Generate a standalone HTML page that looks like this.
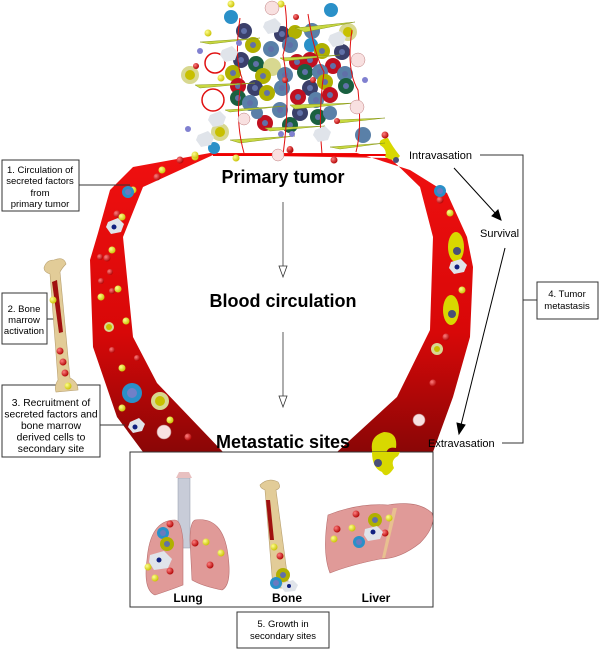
<!DOCTYPE html>
<html><head><meta charset="utf-8"><style>
html,body{margin:0;padding:0;background:#fff;}
svg{display:block;font-family:"Liberation Sans",Arial,sans-serif;}
</style></head><body>
<svg width="600" height="655" viewBox="0 0 600 655" xmlns="http://www.w3.org/2000/svg">
<defs>
<linearGradient id="vg" x1="0" y1="0" x2="0" y2="1">
<stop offset="0" stop-color="#f01010"/><stop offset="0.6" stop-color="#d80808"/><stop offset="1" stop-color="#8a0606"/>
</linearGradient>
<radialGradient id="rb" cx="0.35" cy="0.35" r="0.7"><stop offset="0" stop-color="#ff8080"/><stop offset="1" stop-color="#b00000"/></radialGradient>
<radialGradient id="yb" cx="0.35" cy="0.35" r="0.7"><stop offset="0" stop-color="#ffff90"/><stop offset="1" stop-color="#c8c000"/></radialGradient>
</defs>

<path d="M210,153 L133,167 L110,190 L98,233 L90,260 L93,347 L117,417 L143,452 L223,452 L157,383 L133,337 L123,237 L143,187 L213,155 L390,158 L420,187 L433,237 L430,330 L397,397 L337,452 L433,452 L453,397 L470,337 L473,267 L467,237 L447,193 L410,170 L357,153 Z" fill="url(#vg)"/>
<line x1="213" y1="155" x2="390" y2="155" stroke="#e00" stroke-width="2"/>

<g fill="url(#rb)">
<circle cx="180" cy="160" r="3.5"/><circle cx="157" cy="177" r="3.5"/><circle cx="117" cy="214" r="3.5"/><circle cx="107" cy="258" r="3.5"/><circle cx="100" cy="257" r="3"/><circle cx="110" cy="272" r="3"/><circle cx="101" cy="281" r="3"/><circle cx="112" cy="291" r="3"/><circle cx="112" cy="350" r="3"/><circle cx="137" cy="358" r="3"/><circle cx="188" cy="437" r="3.5"/><circle cx="334" cy="160" r="3.5"/><circle cx="440" cy="200" r="3.5"/><circle cx="446" cy="337" r="3.5"/><circle cx="433" cy="383" r="3.5"/><circle cx="290" cy="150" r="3.5"/>
</g>
<g fill="url(#yb)">
<circle cx="195" cy="157" r="3.5"/><circle cx="162" cy="170" r="3.5"/><circle cx="133" cy="190" r="3.5"/><circle cx="122" cy="217" r="3.5"/><circle cx="112" cy="250" r="3.5"/><circle cx="118" cy="289" r="3.5"/><circle cx="101" cy="297" r="3.5"/><circle cx="126" cy="321" r="3.5"/><circle cx="122" cy="368" r="3.5"/><circle cx="122" cy="408" r="3.5"/><circle cx="170" cy="420" r="3.5"/><circle cx="236" cy="158" r="3.5"/><circle cx="450" cy="213" r="3.5"/><circle cx="462" cy="290" r="3.5"/>
</g>
<g>
<circle cx="128" cy="192" r="6" fill="#2a90c8"/><circle cx="128" cy="192" r="3" fill="#6a7ac0"/>
<circle cx="132" cy="393" r="10" fill="#2a90c8"/><circle cx="132" cy="393" r="5" fill="#7080c8"/>
<circle cx="160" cy="401" r="9" fill="#d8d890"/><circle cx="160" cy="401" r="5" fill="#c8c000"/>
<circle cx="109" cy="327" r="5" fill="#d8d890"/><circle cx="109" cy="327" r="3" fill="#c8c000"/>
<circle cx="440" cy="191" r="6" fill="#2a90c8"/><circle cx="440" cy="191" r="3" fill="#6a7ac0"/>
<circle cx="437" cy="349" r="6" fill="#d8d890"/><circle cx="437" cy="349" r="3" fill="#c8c000"/>
<ellipse cx="456" cy="247" rx="8" ry="15" fill="#d8d800"/><circle cx="457" cy="251" r="4" fill="#4a4f78"/>
<ellipse cx="451" cy="310" rx="8" ry="15" fill="#d8d800"/><circle cx="452" cy="314" r="4" fill="#4a4f78"/>
<path d="M108,222 l10,-4 l6,6 l-3,8 l-10,2 l-5,-7z" fill="#e0e4ea"/><circle cx="114" cy="227" r="2.5" fill="#102080"/>
<path d="M451,262 l10,-3 l6,6 l-3,7 l-10,2 l-5,-6z" fill="#e0e4ea"/><circle cx="457" cy="267" r="2.5" fill="#102080"/>
<path d="M130,422 l9,-4 l6,6 l-3,7 l-9,2 l-5,-6z" fill="#e0e4ea"/><circle cx="135" cy="427" r="2.5" fill="#102080"/>
<circle cx="164" cy="432" r="7" fill="#f8e0e0" stroke="#c08080" stroke-width="0.6"/>
<circle cx="419" cy="420" r="6" fill="#f8e0e0" stroke="#c08080" stroke-width="0.6"/>
<path d="M380,145 q8,5 5,12 q10,6 15,-1 q-8,-10 -12,-18 q-10,1 -8,7z" fill="#d8d800"/><circle cx="396" cy="160" r="3" fill="#4a4f78"/>
<path d="M372,450 q-2,-14 12,-18 q14,0 12,16 q-10,-2 -10,8 q2,4 -2,10 q-12,8 -12,-16z" fill="#d8d800"/><circle cx="380" cy="462" r="4" fill="#4a4f78"/>
</g>

<g>
<circle cx="231" cy="17" r="7" fill="#2a90c8"/><circle cx="331" cy="10" r="7" fill="#2a90c8"/>
<circle cx="348" cy="32" r="9" fill="#d8d890"/><circle cx="348" cy="32" r="5" fill="#c8c000"/>
<circle cx="190" cy="75" r="9" fill="#d8d890"/><circle cx="190" cy="75" r="5" fill="#c8c000"/>
<circle cx="220" cy="132" r="9" fill="#d8d890"/><circle cx="220" cy="132" r="5" fill="#c8c000"/>
<circle cx="214" cy="148" r="6" fill="#2a90c8"/>
<circle cx="363" cy="135" r="8" fill="#5a80a8"/>
<circle cx="244" cy="31" r="8" fill="#3a3f6a"/><circle cx="282" cy="34" r="8" fill="#3a3f6a"/>
<circle cx="295" cy="32" r="7" fill="#b0b000"/><circle cx="312" cy="31" r="8" fill="#5a80a8"/>
<circle cx="253" cy="45" r="8" fill="#b0b000"/><circle cx="271" cy="49" r="8" fill="#5a80a8"/><circle cx="290" cy="45" r="8" fill="#5a80a8"/><circle cx="311" cy="45" r="7" fill="#2a90c8"/><circle cx="322" cy="51" r="8" fill="#b0b000"/><circle cx="342" cy="52" r="8" fill="#3a3f6a"/>
<circle cx="241" cy="60" r="8" fill="#3a3f6a"/><circle cx="256" cy="64" r="8" fill="#1a6040"/><circle cx="272" cy="67" r="9" fill="#d8d890"/><circle cx="297" cy="62" r="8" fill="#c01020"/><circle cx="310" cy="60" r="8" fill="#c01020"/><circle cx="333" cy="66" r="8" fill="#c01020"/>
<circle cx="233" cy="73" r="8" fill="#b0b000"/><circle cx="263" cy="76" r="8" fill="#b0b000"/><circle cx="285" cy="75" r="8" fill="#5a80a8"/><circle cx="305" cy="72" r="8" fill="#1a6040"/><circle cx="320" cy="72" r="8" fill="#5a80a8"/><circle cx="345" cy="74" r="8" fill="#5a80a8"/>
<circle cx="238" cy="86" r="8" fill="#c01020"/><circle cx="255" cy="88" r="8" fill="#3a3f6a"/><circle cx="282" cy="88" r="8" fill="#5a80a8"/><circle cx="310" cy="88" r="8" fill="#3a3f6a"/><circle cx="325" cy="82" r="8" fill="#b0b000"/><circle cx="346" cy="86" r="8" fill="#1a6040"/>
<circle cx="238" cy="98" r="8" fill="#1a6040"/><circle cx="250" cy="103" r="8" fill="#5a80a8"/><circle cx="267" cy="93" r="8" fill="#b0b000"/><circle cx="298" cy="97" r="8" fill="#c01020"/><circle cx="316" cy="100" r="8" fill="#5a80a8"/><circle cx="330" cy="95" r="8" fill="#c01020"/>
<circle cx="280" cy="110" r="8" fill="#5a80a8"/><circle cx="300" cy="113" r="8" fill="#3a3f6a"/><circle cx="318" cy="117" r="8" fill="#1a6040"/><circle cx="265" cy="123" r="8" fill="#c01020"/><circle cx="290" cy="125" r="8" fill="#1a6040"/><circle cx="330" cy="113" r="7" fill="#5a80a8"/><circle cx="257" cy="113" r="6" fill="#5a80a8"/>
<g fill="#6070a8"><circle cx="244" cy="31" r="3"/><circle cx="282" cy="34" r="3"/><circle cx="253" cy="45" r="3"/><circle cx="271" cy="49" r="3"/><circle cx="290" cy="45" r="3"/><circle cx="322" cy="51" r="3"/><circle cx="342" cy="52" r="3"/><circle cx="241" cy="60" r="3"/><circle cx="256" cy="64" r="3"/><circle cx="297" cy="62" r="3"/><circle cx="310" cy="60" r="3"/><circle cx="333" cy="66" r="3"/><circle cx="233" cy="73" r="3"/><circle cx="263" cy="76" r="3"/><circle cx="285" cy="75" r="3"/><circle cx="305" cy="72" r="3"/><circle cx="320" cy="72" r="3"/><circle cx="345" cy="74" r="3"/><circle cx="238" cy="86" r="3"/><circle cx="255" cy="88" r="3"/><circle cx="282" cy="88" r="3"/><circle cx="310" cy="88" r="3"/><circle cx="325" cy="82" r="3"/><circle cx="346" cy="86" r="3"/><circle cx="238" cy="98" r="3"/><circle cx="250" cy="103" r="3"/><circle cx="267" cy="93" r="3"/><circle cx="298" cy="97" r="3"/><circle cx="316" cy="100" r="3"/><circle cx="330" cy="95" r="3"/><circle cx="280" cy="110" r="3"/><circle cx="300" cy="113" r="3"/><circle cx="318" cy="117" r="3"/><circle cx="265" cy="123" r="3"/><circle cx="290" cy="125" r="3"/></g>
<g fill="#c8d840" stroke="#8a9a20" stroke-width="0.5">
<path d="M200,42 l60,-4 l-50,6z"/><path d="M295,28 l60,-6 l-50,10z"/><path d="M195,85 l60,-2 l-55,5z"/><path d="M280,58 l60,-3 l-55,6z"/><path d="M225,110 l60,-4 l-55,6z"/><path d="M290,105 l65,-2 l-60,6z"/><path d="M335,120 l50,-2 l-45,5z"/><path d="M230,140 l65,-4 l-55,7z"/><path d="M330,147 l55,-4 l-45,6z"/><path d="M265,128 l60,-2 l-55,5z"/>
</g>
<g fill="none" stroke="#e01010" stroke-width="1">
<circle cx="215" cy="63" r="10" stroke-width="1.5"/><circle cx="213" cy="100" r="11" stroke-width="1.5"/>
<path d="M240,18 q-6,40 2,60 q-8,40 2,75"/><path d="M285,5 q4,30 -2,50 q8,40 0,100"/><path d="M308,14 q6,40 16,58 q-6,40 -2,82"/><path d="M352,30 q-6,40 6,60 q4,40 -2,62"/>
</g>
<g fill="url(#rb)"><circle cx="196" cy="66" r="3"/><circle cx="296" cy="17" r="3"/><circle cx="285" cy="80" r="3"/><circle cx="313" cy="80" r="3"/><circle cx="337" cy="121" r="3"/><circle cx="385" cy="135" r="3.5"/><circle cx="290" cy="149" r="3"/></g>
<g fill="url(#yb)"><circle cx="231" cy="4" r="3.5"/><circle cx="281" cy="4" r="3.5"/><circle cx="208" cy="33" r="3.5"/><circle cx="221" cy="78" r="3.5"/><circle cx="195" cy="155" r="3.5"/></g>
<g fill="#e0e4ea"><path d="M222,50 l10,-4 l6,6 l-3,8 l-10,2 l-5,-7z"/><path d="M265,22 l10,-4 l6,6 l-3,8 l-10,2 l-5,-7z"/><path d="M330,35 l10,-4 l6,6 l-3,8 l-10,2 l-5,-7z"/><path d="M210,115 l10,-4 l6,6 l-3,8 l-10,2 l-5,-7z"/><path d="M198,135 l10,-4 l6,6 l-3,8 l-10,2 l-5,-7z"/><path d="M315,130 l10,-4 l6,6 l-3,8 l-10,2 l-5,-7z"/></g>
<g fill="#f8e0e0" stroke="#c08080" stroke-width="0.5"><circle cx="272" cy="8" r="7"/><circle cx="358" cy="60" r="7"/><circle cx="357" cy="107" r="7"/><circle cx="244" cy="119" r="6"/><circle cx="278" cy="155" r="6"/></g>
<g fill="#8080d0"><circle cx="200" cy="51" r="3"/><circle cx="239" cy="43" r="3"/><circle cx="365" cy="80" r="3"/><circle cx="188" cy="129" r="3"/><circle cx="281" cy="134" r="3"/><circle cx="292" cy="134" r="3"/></g>
</g>

<g font-weight="bold" font-size="18" text-anchor="middle" fill="#000">
<text x="283" y="183">Primary tumor</text>
<text x="283" y="307">Blood circulation</text>
<text x="283" y="448">Metastatic sites</text>
</g>
<g stroke="#333" stroke-width="0.8" fill="#fff">
<line x1="283" y1="202" x2="283" y2="266"/><path d="M279,266 L287,266 L283,277 Z"/>
<line x1="283" y1="332" x2="283" y2="396"/><path d="M279,396 L287,396 L283,407 Z"/>
</g>

<g stroke="#333" stroke-width="1" fill="#fff">
<rect x="2" y="160" width="77" height="51"/>
<rect x="2" y="293" width="45" height="51"/>
<rect x="2" y="385" width="98" height="72"/>
<rect x="537" y="282" width="61" height="37"/>
<rect x="237" y="612" width="92" height="36"/>
</g>
<g stroke="#333" stroke-width="1" fill="none">
<line x1="79" y1="185" x2="130" y2="185"/>
<line x1="47" y1="319" x2="55" y2="319"/>
<line x1="100" y1="425" x2="125" y2="425"/>
<polyline points="480,155 523,155 523,443 502,443"/>
<line x1="523" y1="300" x2="537" y2="300"/>
</g>
<g font-size="9.5" text-anchor="middle" fill="#000">
<text x="40" y="173">1. Circulation of</text><text x="40" y="184">secreted factors</text><text x="40" y="196">from</text><text x="40" y="207">primary tumor</text>
<text x="24" y="312">2. Bone</text><text x="24" y="323">marrow</text><text x="24" y="334">activation</text>
<text x="567" y="297">4. Tumor</text><text x="567" y="309">metastasis</text>
<text x="283" y="627">5. Growth in</text><text x="283" y="639">secondary sites</text>
</g>
<g font-size="10.3" text-anchor="middle" fill="#000">
<text x="51" y="406">3. Recruitment of</text><text x="51" y="417.5">secreted factors and</text><text x="51" y="429">bone marrow</text><text x="51" y="440.5">derived cells to</text><text x="51" y="452">secondary site</text>
</g>
<g font-size="11" fill="#000">
<text x="409" y="159">Intravasation</text>
<text x="480" y="237">Survival</text>
<text x="428" y="447">Extravasation</text>
</g>
<g stroke="#000" stroke-width="1">
<line x1="454" y1="168" x2="496" y2="214"/><path d="M501,220 L492,216 L498,210 Z" fill="#000"/>
<line x1="505" y1="248" x2="461" y2="425"/><path d="M459,434 L457,423 L465,425 Z" fill="#000"/>
</g>

<g>
<path d="M44,268 q2,-8 10,-8 q10,-4 12,4 q-4,4 -6,8 l10,106 q8,4 8,12 l-22,2 q-2,-6 2,-12 l-8,-106 q-6,-2 -6,-6z" fill="#e2cc98" stroke="#b8a070" stroke-width="0.6"/>
<path d="M52,282 l5,-2 l6,52 l-4,1z" fill="#a01010"/>
<circle cx="53" cy="300" r="3.5" fill="url(#yb)"/><circle cx="60" cy="351" r="3.5" fill="url(#rb)"/><circle cx="63" cy="362" r="3.5" fill="url(#rb)"/><circle cx="65" cy="373" r="3.5" fill="url(#rb)"/><circle cx="68" cy="386" r="3.5" fill="url(#yb)"/>
</g>

<rect x="130" y="452" width="303" height="155" fill="#fff" stroke="#333" stroke-width="1"/>
<path d="M372,452 q0,16 10,20 q4,8 12,-4 q-4,-8 4,-12 l2,-4z" fill="#d8d800"/><circle cx="378" cy="463" r="4" fill="#4a4f78"/>
<g>
<rect x="178" y="478" width="12" height="70" fill="#c8ccd8" stroke="#9098a8" stroke-width="0.5"/>
<path d="M176,478 l16,0 l-3,-6 l-10,0z" fill="#e8c0c0"/>
<path d="M175,520 q-25,0 -28,40 q-4,30 8,35 q18,-6 28,-10 l0,-45 q-2,-20 -8,-20z" fill="#e09a98" stroke="#b87070" stroke-width="0.6"/>
<path d="M195,520 q28,-4 33,35 q4,30 -6,35 q-20,-4 -30,-10 l-2,-40 q0,-18 5,-20z" fill="#e09a98" stroke="#b87070" stroke-width="0.6"/>
<g fill="url(#rb)"><circle cx="170" cy="524" r="3.5"/><circle cx="195" cy="543" r="3.5"/><circle cx="210" cy="565" r="3.5"/><circle cx="170" cy="571" r="3.5"/></g>
<g fill="url(#yb)"><circle cx="206" cy="542" r="3.5"/><circle cx="221" cy="553" r="3.5"/><circle cx="148" cy="567" r="3.5"/><circle cx="155" cy="578" r="3.5"/></g>
<circle cx="163" cy="533" r="6" fill="#2a90c8"/><circle cx="163" cy="533" r="3" fill="#6a7ac0"/>
<circle cx="167" cy="544" r="7" fill="#b0b000"/><circle cx="167" cy="544" r="3" fill="#6070a8"/>
<path d="M150,555 l14,-4 l8,8 l-4,9 l-14,2 l-5,-8z" fill="#e0e4ea"/><circle cx="159" cy="560" r="2.5" fill="#102080"/>
</g>
<g>
<path d="M260,485 q8,-8 18,-3 q4,6 -2,8 l13,98 l-16,0 l-8,-98 q-5,-2 -5,-5z" fill="#e2cc98" stroke="#b8a070" stroke-width="0.6"/>
<path d="M266,500 l4,0 l4,40 l-4,0z" fill="#a01010"/>
<circle cx="274" cy="547" r="3.5" fill="url(#yb)"/><circle cx="280" cy="556" r="3.5" fill="url(#rb)"/>
<circle cx="283" cy="575" r="7" fill="#b0b000"/><circle cx="283" cy="575" r="3" fill="#6070a8"/>
<circle cx="276" cy="583" r="6" fill="#2a90c8"/><circle cx="276" cy="583" r="3" fill="#6a7ac0"/>
<path d="M283,583 l10,-3 l5,5 l-3,6 l-10,1 l-4,-5z" fill="#e0e4ea"/><circle cx="289" cy="586" r="2" fill="#102080"/>
</g>
<g>
<path d="M328,515 q30,-12 60,-10 q30,-5 44,8 q4,14 -12,30 q-20,16 -40,16 q-30,6 -50,14 q-8,-20 -2,-58z" fill="#e09a98" stroke="#b87070" stroke-width="0.6"/>
<path d="M393,508 l4,0 l-12,50 l-3,0z" fill="#e8c090"/>
<g fill="url(#rb)"><circle cx="356" cy="514" r="3.5"/><circle cx="337" cy="529" r="3.5"/><circle cx="385" cy="533" r="3.5"/></g>
<g fill="url(#yb)"><circle cx="352" cy="528" r="3.5"/><circle cx="334" cy="539" r="3.5"/><circle cx="389" cy="518" r="3.5"/></g>
<circle cx="375" cy="520" r="7" fill="#b0b000"/><circle cx="375" cy="520" r="3" fill="#6070a8"/>
<path d="M365,529 l12,-3 l6,6 l-3,7 l-12,2 l-4,-6z" fill="#e0e4ea"/><circle cx="373" cy="532" r="2.5" fill="#102080"/>
<circle cx="359" cy="542" r="6" fill="#2a90c8"/><circle cx="359" cy="542" r="3" fill="#6a7ac0"/>
</g>
<g font-weight="bold" font-size="12" text-anchor="middle" fill="#000">
<text x="188" y="602">Lung</text><text x="287" y="602">Bone</text><text x="376" y="602">Liver</text>
</g>
</svg>
</body></html>
